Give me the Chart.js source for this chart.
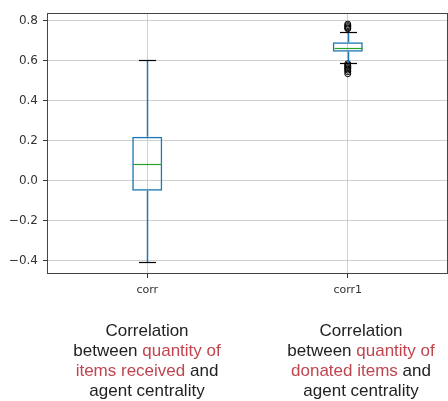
<!DOCTYPE html>
<html><head><meta charset="utf-8">
<script src="https://cdn.jsdelivr.net/npm/chart.js@4"></script>
<style>
html,body{margin:0;padding:0;background:#fff;}
#wrap{position:relative;width:448px;height:401px;overflow:hidden;}
canvas{position:absolute;left:0;top:0;}
.cap{position:absolute;top:321px;width:190px;text-align:center;font-family:'Liberation Sans',Arial,sans-serif;font-size:17px;line-height:20px;color:#222;}
.cap .hl{color:#c0454f;}
</style></head><body>
<div id="wrap"><canvas id="c" width="448" height="401"></canvas>
<div class="cap" style="left:52px">Correlation<br>between <span class="hl">quantity of</span><br><span class="hl">items received</span> and<br>agent centrality</div>
<div class="cap" style="left:266px">Correlation<br>between <span class="hl">quantity of</span><br><span class="hl">donated items</span> and<br>agent centrality</div>
</div>
<script>
const categories = ['corr', 'corr1'];
const q1 = [-0.05, 0.645];
const medians = [0.082, 0.666];
const q3 = [0.22, 0.692];
const whiskerLow = [-0.408, 0.59];
const whiskerHigh = [0.603, 0.742];
const fliersCorr = [];
const fliersCorr1 = [0.783, 0.776, 0.77, 0.764, 0.76, 0.585, 0.578, 0.572, 0.566, 0.56, 0.553, 0.545, 0.535];
const yTicks = [-0.4, -0.2, 0.0, 0.2, 0.4, 0.6, 0.8];
const yMin = -0.4665, yMax = 0.8385;

const fliers = [fliersCorr, fliersCorr1];
const flierPoints = [];
fliers.forEach((arr, i) => arr.forEach(v => flierPoints.push({x: categories[i], y: v})));

const BOX_FRAC = 0.15;

const boxParts = {
  id: 'boxParts',
  afterDatasetsDraw(chart) {
    const {ctx, scales: {x, y}} = chart;
    const step = x.getPixelForValue(1) - x.getPixelForValue(0);
    const half = step * BOX_FRAC / 2, capHalf = half / 2 + 1;
    const seg = (x1, y1, x2, y2) => { ctx.beginPath(); ctx.moveTo(x1, y1); ctx.lineTo(x2, y2); ctx.stroke(); };
    ctx.save();
    categories.forEach((c, i) => {
      const cx = Math.round(x.getPixelForValue(i)) + 0.5;
      const yq1 = y.getPixelForValue(q1[i]), yq3 = y.getPixelForValue(q3[i]);
      const ylo = Math.round(y.getPixelForValue(whiskerLow[i])) + 0.5;
      const yhi = Math.round(y.getPixelForValue(whiskerHigh[i])) + 0.5;
      ctx.strokeStyle = '#1f77b4'; ctx.lineWidth = 1.5;
      seg(cx, yq3, cx, yhi);
      seg(cx, yq1, cx, ylo);
      ctx.strokeStyle = '#000'; ctx.lineWidth = 1.2;
      seg(cx - capHalf, yhi, cx + capHalf, yhi);
      seg(cx - capHalf, ylo, cx + capHalf, ylo);
      ctx.strokeStyle = '#2ca02c'; ctx.lineWidth = 1.2;
      const ym = Math.round(y.getPixelForValue(medians[i])) + 0.5;
      seg(cx - half + 1, ym, cx + half - 1, ym);
    });
    ctx.restore();
  },
  afterDraw(chart) {
    const {ctx, chartArea: a} = chart;
    ctx.save();
    ctx.strokeStyle = '#444'; ctx.lineWidth = 1;
    ctx.strokeRect(a.left + 0.5, a.top + 0.5, a.right - a.left - 1, a.bottom - a.top - 1);
    ctx.restore();
  }
};

new Chart(document.getElementById('c'), {
  type: 'bar',
  data: {
    labels: categories,
    datasets: [
      {
        type: 'bar',
        data: categories.map((c, i) => [q1[i], q3[i]]),
        backgroundColor: 'rgba(0,0,0,0)',
        borderColor: '#1f77b4',
        borderWidth: 1.5,
        borderSkipped: false,
        categoryPercentage: 1,
        barPercentage: BOX_FRAC,
        order: 2
      },
      {
        type: 'scatter',
        data: flierPoints,
        pointStyle: 'circle',
        pointRadius: 3,
        borderColor: '#000',
        borderWidth: 1,
        backgroundColor: 'rgba(0,0,0,0)',
        order: 1
      }
    ]
  },
  options: {
    responsive: false,
    animation: false,
    events: [],
    layout: {autoPadding: false, padding: {top: 13, right: 0, left: 0, bottom: 0}},
    plugins: {legend: {display: false}, tooltip: {enabled: false}},
    scales: {
      x: {
        type: 'category',
        offset: true,
        afterFit: s => { s.height = 127; },
        grid: {offset: false, color: '#d0d0d0', lineWidth: 1, tickLength: 4, tickColor: '#333', drawTicks: true},
        border: {display: false},
        ticks: {color: '#333', padding: 6, font: {family: 'DejaVu Sans', size: 11}}
      },
      y: {
        type: 'linear',
        min: yMin, max: yMax,
        afterFit: s => { s.width = 47; },
        afterBuildTicks: s => { s.ticks = yTicks.map(v => ({value: v})); },
        grid: {color: '#d0d0d0', lineWidth: 1, tickLength: 4, tickColor: '#333'},
        border: {display: false},
        ticks: {
          color: '#333', padding: 5, font: {family: 'DejaVu Sans', size: 12},
          callback: v => (v < 0 ? '\u2212' : '') + Math.abs(v).toFixed(1)
        }
      }
    }
  },
  plugins: [boxParts]
});
</script>
</body></html>
